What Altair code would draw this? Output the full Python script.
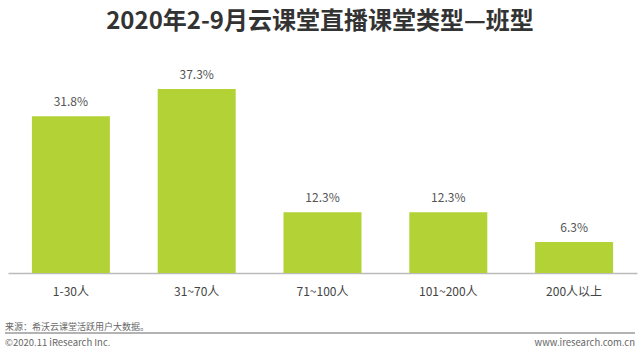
import altair as alt
import pandas as pd

categories = ["1-30人", "31~70人", "71~100人", "101~200人", "200人以上"]
values = [31.8, 37.3, 12.3, 12.3, 6.3]
labels = ["31.8%", "37.3%", "12.3%", "12.3%", "6.3%"]

title_text = "2020年2-9月云课堂直播课堂类型—班型"
source_text = "来源：希沃云课堂活跃用户大数据。"
copyright_text = "©2020.11  iResearch Inc."
site_text = "www.iresearch.com.cn"

df = pd.DataFrame({"cat": categories, "val": values, "lab": labels})

FONT = "Noto Sans CJK SC"
W, H = 629, 213

base = alt.Chart(df)
x = alt.X("cat:N", sort=categories, title=None,
          scale=alt.Scale(paddingInner=0.38, paddingOuter=0.19),
          axis=alt.Axis(labelAngle=0, labelFont=FONT, labelFontSize=12,
                        labelColor="#444444", labelPadding=13, ticks=False,
                        domainColor="#bbbbbb", domainWidth=1.5))
y = alt.Y("val:Q", scale=alt.Scale(domain=[0, 43.2], nice=False), axis=None)

bars = base.mark_bar(color="#b2d235").encode(x=x, y=y)
text = base.mark_text(font=FONT, fontSize=12, color="#555555", baseline="middle", dy=-14).encode(
    x=alt.X("cat:N", sort=categories), y="val:Q", text="lab:N")

one = pd.DataFrame({"a": [0]})
title = alt.Chart(one).mark_text(text=title_text, font=FONT, fontSize=24, fontWeight="bold",
                                 color="#333333", align="center", baseline="middle").encode(
    x=alt.value(312), y=alt.value(22 - 60))
src = alt.Chart(one).mark_text(text=source_text, font=FONT, fontSize=9, color="#666666",
                               align="left", baseline="middle").encode(
    x=alt.value(-3), y=alt.value(327 - 60))
rule = alt.Chart(one).mark_rule(color="#9a9a9a", strokeWidth=1.5).encode(
    x=alt.value(-3), x2=alt.value(627), y=alt.value(333 - 60))
cp = alt.Chart(one).mark_text(text=copyright_text, font=FONT, fontSize=9.5, color="#666666",
                              align="left", baseline="middle").encode(
    x=alt.value(-3), y=alt.value(343 - 60))
site = alt.Chart(one).mark_text(text=site_text, font=FONT, fontSize=9.5, color="#666666",
                                align="right", baseline="middle").encode(
    x=alt.value(627), y=alt.value(343 - 60))

chart = alt.layer(bars, text, title, src, rule, cp, site).properties(
    width=W, height=H,
    background="white",
    autosize=alt.AutoSizeParams(type="none"),
    padding={"left": 8, "top": 60, "right": 3, "bottom": 82},
).configure_view(strokeWidth=0, stroke=None)

chart.save("out.html", embed_options={"renderer": "svg", "actions": False})
